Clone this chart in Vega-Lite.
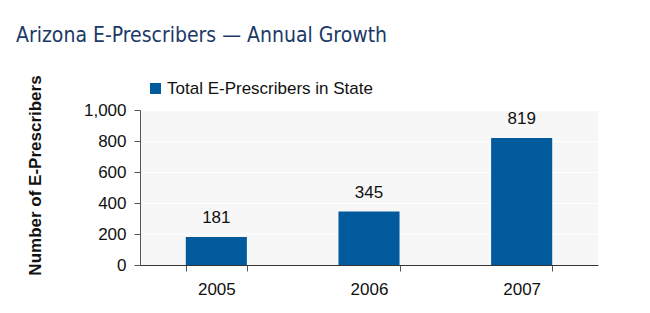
{
  "$schema": "https://vega.github.io/schema/vega-lite/v6.json",
  "width": 458,
  "height": 155,
  "autosize": {"type": "none"},
  "padding": {"left": 140, "top": 110, "right": 52, "bottom": 48},
  "background": "white",
  "title": {
    "text": "Arizona E-Prescribers — Annual Growth",
    "anchor": "start",
    "frame": "group",
    "font": "DejaVu Sans Condensed",
    "fontSize": 21,
    "fontWeight": "normal",
    "color": "#1b3a66",
    "dx": -124,
    "offset": 29
  },
  "data": {
    "values": [
      {"year": "2005", "count": 181, "series": "Total E-Prescribers in State"},
      {"year": "2006", "count": 345, "series": "Total E-Prescribers in State"},
      {"year": "2007", "count": 819, "series": "Total E-Prescribers in State"}
    ]
  },
  "encoding": {
    "x": {
      "field": "year",
      "type": "nominal",
      "scale": {"paddingInner": 0.6, "paddingOuter": 0.3},
      "axis": {
        "title": null,
        "labelAngle": 0,
        "tickBand": "extent",
        "labelFont": "Liberation Sans",
        "labelFontSize": 17,
        "labelColor": "#111",
        "labelPadding": 10,
        "domainColor": "#333",
        "tickColor": "#555",
        "tickSize": 6,
        "grid": false
      }
    },
    "y": {
      "field": "count",
      "type": "quantitative",
      "scale": {"domain": [0, 1000]},
      "axis": {
        "title": "Number of E-Prescribers",
        "titleFont": "Liberation Sans",
        "titleFontSize": 17,
        "titleFontWeight": "bold",
        "titleColor": "#111",
        "titleX": -96,
        "titleY": 65,
        "values": [0, 200, 400, 600, 800, 1000],
        "format": ",d",
        "labelFont": "Liberation Sans",
        "labelFontSize": 17,
        "labelColor": "#111",
        "labelPadding": 8,
        "domainColor": "#555",
        "tickColor": "#555",
        "tickSize": 6,
        "grid": true,
        "gridColor": "white",
        "gridWidth": 1
      }
    }
  },
  "layer": [
    {
      "mark": {"type": "bar", "color": "#005a9c"},
      "encoding": {
        "color": {
          "field": "series",
          "type": "nominal",
          "scale": {"range": ["#005a9c"]},
          "legend": {
            "title": null,
            "orient": "none",
            "legendX": 7,
            "legendY": -30,
            "symbolType": "square",
            "symbolSize": 120,
            "symbolStrokeWidth": 0,
            "labelFont": "Liberation Sans",
            "labelFontSize": 17,
            "labelColor": "#111",
            "labelOffset": 3,
            "labelLimit": 0
          }
        }
      }
    },
    {
      "mark": {
        "type": "text",
        "baseline": "alphabetic",
        "dy": -14,
        "font": "Liberation Sans",
        "fontSize": 17,
        "color": "#111"
      },
      "encoding": {"text": {"field": "count", "type": "quantitative"}}
    }
  ],
  "config": {
    "view": {"fill": "#f7f7f7", "stroke": null}
  }
}
